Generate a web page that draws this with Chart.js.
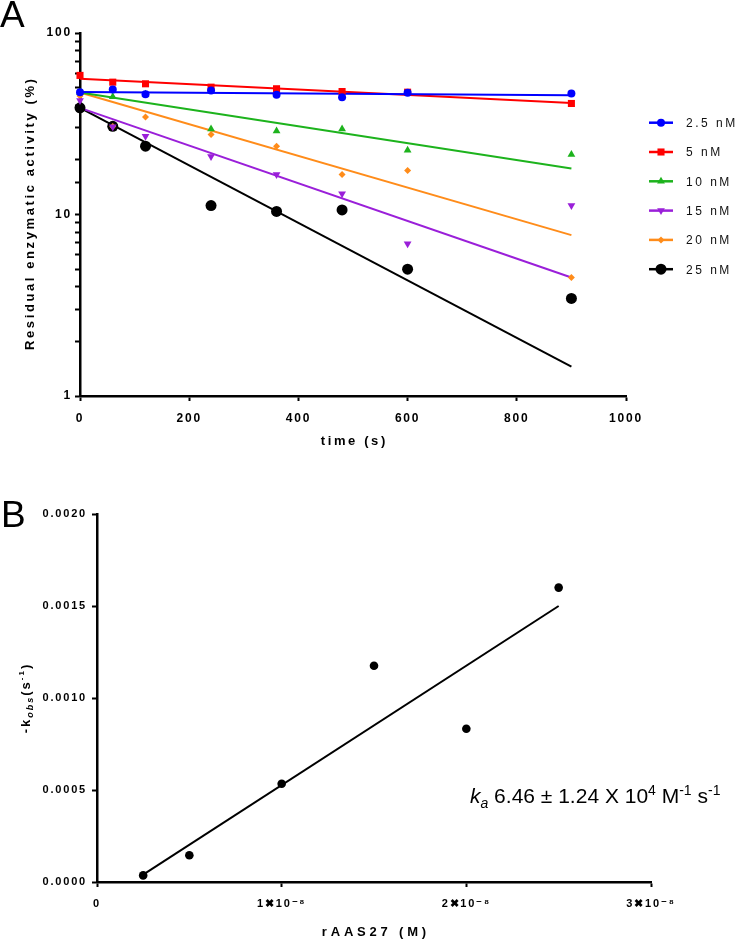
<!DOCTYPE html>
<html>
<head>
<meta charset="utf-8">
<script src="https://cdn.jsdelivr.net/npm/chart.js@4.4.0/dist/chart.umd.min.js"></script>
<style>
  body { margin: 0; background: #fff; }
  #wrap { position: relative; width: 736px; height: 940px; }
  canvas { position: absolute; left: 0; }
  #chartA { top: 0; }
  #chartB { top: 460px; }
</style>
</head>
<body>
<div id="wrap">
  <canvas id="chartA" width="736" height="460"></canvas>
  <canvas id="chartB" width="736" height="480"></canvas>
</div>
<script>
// ---- panel A data (residual activity %, time in s) ----
const times = [0, 60, 120, 240, 360, 480, 600, 900];
const seriesNames = ['2.5 nM', '5 nM', '10 nM', '15 nM', '20 nM', '25 nM'];
const act2_5 = [47.2, 48.8, 46.0, 48.2, 45.7, 44.2, 46.8, 46.4];
const act5 = [58.4, 53.6, 52.5, 50.3, 49.3, 47.6, 47.2, 40.9];
const act10 = [47.0, 44.5, 46.0, 29.6, 28.8, 29.6, 22.6, 21.4];
const act15 = [42.5, 30.4, 27.0, 20.9, 16.6, 13.0, 6.9, 11.2];
const act20 = [45.0, 30.5, 34.5, 27.6, 23.8, 16.6, 17.5, 4.5];
const act25 = [38.7, 30.6, 23.8, 11.2, 10.4, 10.6, 5.0, 3.45];
const fitTimes = [0, 900];
const fit2_5 = [47.3, 45.4];
const fit5 = [56.0, 41.2];
const fit10 = [47.0, 17.9];
const fit15 = [38.7, 4.5];
const fit20 = [47.0, 7.7];
const fit25 = [38.7, 1.45];
const xTicksA = [0, 200, 400, 600, 800, 1000];
const yLabelsA = [1, 10, 100];

// ---- panel B data (-kobs vs rAAS27 concentration) ----
const concB = [2.5e-9, 5e-9, 1e-8, 1.5e-8, 2e-8, 2.5e-8];
const kobs = [0.000036, 0.000145, 0.000534, 0.001175, 0.000833, 0.0016];
const fitConcB = [2.5e-9, 2.5e-8];
const fitKobs = [0.00004, 0.0015];
const xTicksB = [0, 1e-8, 2e-8, 3e-8];
const xTickLabelsB = ['0', '1\u271610\u207B\u2078', '2\u271610\u207B\u2078', '3\u271610\u207B\u2078'];
const yTicksB = [0, 0.0005, 0.001, 0.0015, 0.002];
const yTickLabelsB = ['0.0000', '0.0005', '0.0010', '0.0015', '0.0020'];

const FONT = "'Liberation Sans', Arial, sans-serif";
Chart.defaults.font.family = FONT;
Chart.defaults.color = '#000';

const colors = ['#0000ff', '#ff0000', '#1db31d', '#9a1fd9', '#ff8c1a', '#000000'];
const markers = ['circle', 'rect', 'triangle', 'triangle', 'rectRot', 'circle'];
const markerRot = [0, 0, 0, 180, 0, 0];
const markerSize = [4, 5, 4.5, 4.5, 3.5, 5.5];

function pts(xs, ys) {
    return xs.map((x, i) => ({ x: x, y: ys[i] }));
}

function drawMarker(ctx, style, x, y, r, color, rot) {
    ctx.save();
    ctx.fillStyle = color;
    ctx.translate(x, y);
    ctx.rotate(rot * Math.PI / 180);
    ctx.beginPath();
    if (style === 'circle') {
        ctx.arc(0, 0, r, 0, Math.PI * 2);
    } else if (style === 'rect') {
        const s = r * Math.SQRT1_2;
        ctx.rect(-s, -s, 2 * s, 2 * s);
    } else if (style === 'rectRot') {
        ctx.moveTo(0, -r); ctx.lineTo(r, 0); ctx.lineTo(0, r); ctx.lineTo(-r, 0);
        ctx.closePath();
    } else {
        let a = 0;
        ctx.moveTo(Math.sin(a) * r, -Math.cos(a) * r);
        a += Math.PI * 2 / 3;
        ctx.lineTo(Math.sin(a) * r, -Math.cos(a) * r);
        a += Math.PI * 2 / 3;
        ctx.lineTo(Math.sin(a) * r, -Math.cos(a) * r);
        ctx.closePath();
    }
    ctx.fill();
    ctx.restore();
}

// spaced axis title, centred on (cx, cy), optionally rotated
function spacedTitle(ctx, text, cx, cy, size, gap, rotated) {
    ctx.save();
    ctx.font = 'bold ' + size + 'px ' + FONT;
    ctx.letterSpacing = gap + 'px';
    ctx.fillStyle = '#000';
    ctx.textAlign = 'left';
    ctx.textBaseline = 'middle';
    const w = ctx.measureText(text).width - gap;
    ctx.translate(cx, cy);
    if (rotated) ctx.rotate(-Math.PI / 2);
    ctx.fillText(text, -w / 2, 0);
    ctx.restore();
}

const spacing = {
    id: 'spacing',
    beforeDraw(chart) {
        chart.ctx.letterSpacing = '1.8px';
    }
};

const axisGrid = { drawOnChartArea: false, drawTicks: true, tickLength: 5, tickWidth: 2, tickColor: '#000' };
const axisBorder = { display: true, color: '#000', width: 2.5 };
const tickFont = { size: 12, weight: 'bold' };

// ---------- panel A ----------
const actAll = [act2_5, act5, act10, act15, act20, act25];
const fitAll = [fit2_5, fit5, fit10, fit15, fit20, fit25];
const dsA = [];
actAll.forEach((a, i) => {
    dsA.push({
        label: seriesNames[i],
        data: pts(times, a),
        showLine: false,
        pointStyle: markers[i],
        rotation: markerRot[i],
        pointRadius: markerSize[i],
        pointBorderWidth: 0,
        backgroundColor: colors[i],
        borderColor: colors[i],
        clip: false,
        order: 1
    });
});
fitAll.forEach((f, i) => {
    dsA.push({
        label: seriesNames[i] + ' fit',
        data: pts(fitTimes, f),
        showLine: true,
        pointRadius: 0,
        borderWidth: 2,
        borderColor: colors[i],
        clip: false,
        order: 2
    });
});

const extrasA = {
    id: 'extrasA',
    afterDraw(chart) {
        const ctx = chart.ctx;
        ctx.save();
        ctx.font = '12px ' + FONT;
        ctx.letterSpacing = '2.5px';
        ctx.textBaseline = 'middle';
        ctx.textAlign = 'left';
        seriesNames.forEach((name, i) => {
            const y = 122.7 + i * 29.3;
            ctx.strokeStyle = colors[i];
            ctx.lineWidth = 2.5;
            ctx.beginPath();
            ctx.moveTo(649, y);
            ctx.lineTo(673, y);
            ctx.stroke();
            drawMarker(ctx, markers[i], 661, y, markerSize[i], colors[i], markerRot[i]);
            ctx.fillStyle = '#111';
            ctx.fillText(name, 686, y + 1);
        });
        ctx.letterSpacing = '0px';
        ctx.font = '37px ' + FONT;
        ctx.fillStyle = '#000';
        ctx.textBaseline = 'alphabetic';
        ctx.fillText('A', 0, 27);
        ctx.restore();

        const area = chart.chartArea;
        spacedTitle(ctx, 'Residual enzymatic activity (%)', 30, (area.top + area.bottom) / 2, 13, 2.6, true);
        spacedTitle(ctx, 'time (s)', (area.left + area.right) / 2, 441, 13, 2.6, false);
    }
};

new Chart(document.getElementById('chartA'), {
    type: 'scatter',
    data: { datasets: dsA },
    options: {
        responsive: false,
        animation: false,
        layout: { padding: { left: 19, top: 33, right: 110, bottom: 8 } },
        plugins: { legend: { display: false }, tooltip: { enabled: false } },
        scales: {
            x: {
                type: 'linear', min: 0, max: 1000,
                afterBuildTicks: s => { s.ticks = xTicksA.map(v => ({ value: v })); },
                afterFit: s => { s.height = 56; },
                ticks: { font: tickFont, padding: 10, maxRotation: 0, autoSkip: false, callback: v => String(v) },
                grid: axisGrid, border: axisBorder,
                title: { display: false }
            },
            y: {
                type: 'logarithmic', min: 1, max: 100,
                afterFit: s => { s.width = 61; },
                ticks: {
                    font: tickFont, padding: 3, autoSkip: false,
                    callback: v => yLabelsA.includes(v) ? String(v) : ''
                },
                grid: axisGrid, border: axisBorder,
                title: { display: false }
            }
        }
    },
    plugins: [spacing, extrasA]
});

// ---------- panel B ----------
const extrasB = {
    id: 'extrasB',
    afterDraw(chart) {
        const ctx = chart.ctx;
        const area = chart.chartArea;
        ctx.save();
        ctx.letterSpacing = '0px';
        ctx.fillStyle = '#000';
        ctx.textBaseline = 'alphabetic';
        ctx.font = '37px ' + FONT;
        ctx.fillText('B', 1, 67);

        // y axis title: -k_obs (s^-1), rotated
        const parts = [
            { t: '-k', f: 'bold 13px ', dy: 0 },
            { t: 'obs', f: 'italic bold 9px ', dy: 3 },
            { t: '(s', f: 'bold 13px ', dy: 0 },
            { t: '-1', f: 'bold 8px ', dy: -6 },
            { t: ')', f: 'bold 13px ', dy: 0 }
        ];
        ctx.letterSpacing = '2px';
        let total = 0;
        parts.forEach(p => { ctx.font = p.f + FONT; p.w = ctx.measureText(p.t).width; total += p.w; });
        ctx.translate(30, (area.top + area.bottom) / 2);
        ctx.rotate(-Math.PI / 2);
        let x = -total / 2;
        parts.forEach(p => { ctx.font = p.f + FONT; ctx.fillText(p.t, x, p.dy); x += p.w; });
        ctx.setTransform(1, 0, 0, 1, 0, 0);

        // rate constant annotation
        ctx.letterSpacing = '0px';
        const ann = [
            { t: 'k', f: 'italic 21px ', dy: 0 },
            { t: 'a', f: 'italic 14px ', dy: 5 },
            { t: ' 6.46 \u00B1 1.24 X 10', f: '21px ', dy: 0 },
            { t: '4', f: '14px ', dy: -8 },
            { t: ' M', f: '21px ', dy: 0 },
            { t: '-1', f: '14px ', dy: -8 },
            { t: ' s', f: '21px ', dy: 0 },
            { t: '-1', f: '14px ', dy: -8 }
        ];
        let ax = 470;
        ann.forEach(p => {
            ctx.font = p.f + FONT;
            ctx.fillText(p.t, ax, 343 + p.dy);
            ax += ctx.measureText(p.t).width;
        });
        ctx.restore();

        spacedTitle(ctx, 'rAAS27 (M)', (area.left + area.right) / 2, 472, 13, 3.8, false);
    }
};

new Chart(document.getElementById('chartB'), {
    type: 'scatter',
    data: {
        datasets: [
            {
                label: 'kobs',
                data: pts(concB, kobs),
                showLine: false,
                pointStyle: 'circle',
                pointRadius: 4.3,
                pointBorderWidth: 0,
                backgroundColor: '#000',
                borderColor: '#000',
                clip: false,
                order: 1
            },
            {
                label: 'fit',
                data: pts(fitConcB, fitKobs),
                showLine: true,
                pointRadius: 0,
                borderWidth: 2,
                borderColor: '#000',
                clip: false,
                order: 2
            }
        ]
    },
    options: {
        responsive: false,
        animation: false,
        layout: { padding: { left: 10, top: 54, right: 85, bottom: 0 } },
        plugins: { legend: { display: false }, tooltip: { enabled: false } },
        scales: {
            x: {
                type: 'linear', min: 0, max: 3e-8,
                afterBuildTicks: s => { s.ticks = xTicksB.map(v => ({ value: v })); },
                afterFit: s => { s.height = 58; },
                ticks: {
                    font: { size: 11, weight: 'bold' }, padding: 10, maxRotation: 0, autoSkip: false,
                    callback: (v, i) => xTickLabelsB[i]
                },
                grid: axisGrid, border: axisBorder,
                title: { display: false }
            },
            y: {
                min: 0, max: 0.002,
                afterBuildTicks: s => { s.ticks = yTicksB.map(v => ({ value: v })); },
                afterFit: s => { s.width = 87; },
                ticks: {
                    font: { size: 11, weight: 'bold' }, padding: 5, autoSkip: false,
                    callback: (v, i) => yTickLabelsB[i]
                },
                grid: axisGrid, border: axisBorder,
                title: { display: false }
            }
        }
    },
    plugins: [spacing, extrasB]
});
</script>
</body>
</html>
